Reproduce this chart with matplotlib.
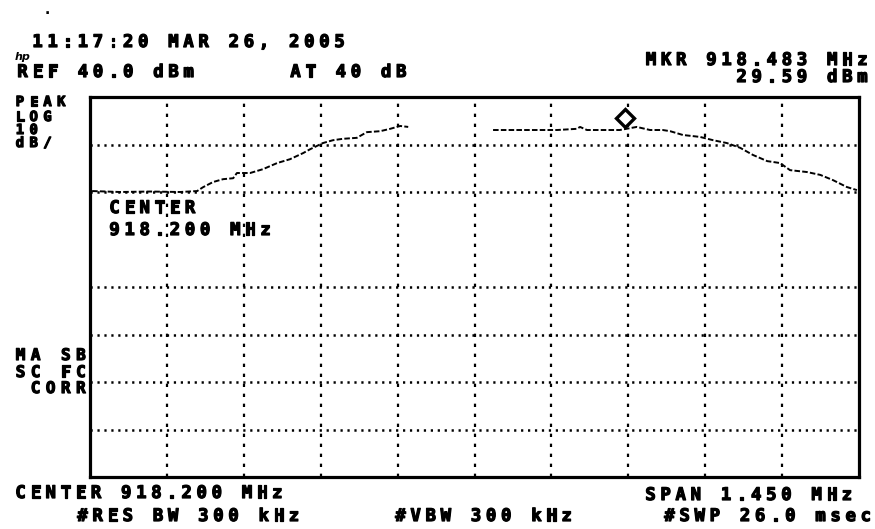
import numpy as np
import matplotlib
matplotlib.use('Agg')
import matplotlib.pyplot as plt
import matplotlib.patheffects as pe

plt.rcParams['lines.scale_dashes'] = False

# ---------------- data ----------------
center_mhz = 918.200
span_mhz = 1.450
ref_level = 40.0
db_per_div = 10.0
n_ydiv = 8
n_xdiv = 10

# horizontal graticule levels visible in the picture (the +10 dBm line is absent)
grid_levels = [30, 20, 0, -10, -20, -30]

trace_freq = [917.479, 917.532, 917.588, 917.645, 917.677, 917.688, 917.707, 917.726,
              917.745, 917.752, 917.777, 917.801, 917.828, 917.852, 917.877, 917.890,
              917.914, 917.933, 917.952, 917.978, 917.997, 918.022, 918.041, 918.060,
              918.075, 918.150, 918.235, 918.263, 918.299, 918.342, 918.356, 918.393,
              918.399, 918.412, 918.474, 918.506, 918.531, 918.555, 918.569, 918.593,
              918.625, 918.650, 918.676, 918.701, 918.725, 918.752, 918.776, 918.795,
              918.827, 918.852, 918.876, 918.902, 918.921]
trace_dbm = [20.2, 20.0, 20.1, 20.0, 20.2, 21.0, 22.1, 22.7,
             22.9, 24.0, 24.0, 24.8, 26.1, 26.9, 28.2, 29.0,
             30.3, 30.9, 31.2, 31.4, 32.6, 32.8, 33.3, 33.9,
             33.7, np.nan, 33.05, 33.05, 33.05, 33.05, 33.05, 33.3,
             33.7, 33.05, 33.05, 33.7, 33.05, 33.05, 32.8, 32.0,
             31.6, 30.9, 30.3, 29.3, 27.8, 26.5, 26.1, 24.6,
             24.2, 23.6, 22.5, 21.05, 20.4]

marker_freq = 918.483
marker_plot_dbm = 35.6

# ---------------- figure ----------------
W, H = 875, 529
fig = plt.figure(figsize=(W / 100, H / 100), dpi=100)
fig.patch.set_facecolor('white')

ax = fig.add_axes([90 / W, (H - 477) / H, 769 / W, 380 / H])
f_start = center_mhz - span_mhz / 2
f_stop = center_mhz + span_mhz / 2
y_bot = ref_level - n_ydiv * db_per_div
ax.set_xlim(f_start, f_stop)
ax.set_ylim(y_bot, ref_level)
ax.set_xticks([])
ax.set_yticks([])
for s in ax.spines.values():
    s.set_linewidth(2.3)
    s.set_color('black')

grid_freqs = [f_start + k * span_mhz / n_xdiv for k in range(1, n_xdiv)]
for f in grid_freqs:
    ax.axvline(f, color='black', lw=1.6, ls=(0, (2.4, 4.8)), zorder=1)
for lv in grid_levels:
    ax.axhline(lv, color='black', lw=1.8, ls=(0, (1.6, 3.4)), zorder=1)

ax.plot(trace_freq, trace_dbm, color='black', lw=1.4, ls=(0, (4, 1.6)), zorder=3)
ax.plot([marker_freq], [marker_plot_dbm], marker='D', ms=9, mfc='white',
        mec='black', mew=2.4, ls='none', zorder=4)

# ---------------- annotation text (fixed-pitch, like the instrument font) ----------------
PITCH = 15.1
BOLD = [pe.withStroke(linewidth=0.9, foreground='black')]


def label(s, x, base, align='left', size=12.5, pitch=PITCH):
    if align == 'right':
        x = x - len(s) * pitch
    for i, ch in enumerate(s):
        if ch == ' ':
            continue
        fig.text((x + (i + 0.5) * pitch) / W, 1 - base / H, ch, ha='center',
                 va='baseline', family='DejaVu Sans Mono', weight='bold',
                 size=size, color='black', path_effects=BOLD)


fig.text(47 / W, 1 - 14 / H, '.', ha='center', va='baseline', size=10, weight='bold')
label('11:17:20 MAR 26, 2005', 30, 47)
fig.text(15 / W, 1 - 60 / H, 'hp', ha='left', va='baseline', size=8,
         style='italic', weight='bold', family='DejaVu Sans')
label('REF 40.0 dBm', 15, 77)
label('AT 40 dB', 288, 77)
label('MKR 918.483 MHz', 870, 65, align='right')
label('29.59 dBm', 870, 82, align='right')

label('PEAK', 13, 106, size=10, pitch=13.8)
label('LOG', 13, 121, size=10, pitch=13.8)
label('10', 13, 134, size=10, pitch=13.8)
label('dB/', 13, 147, size=10, pitch=13.8)

label('CENTER', 107, 213)
label('918.200 MHz', 107, 235)

label('MA SB', 13, 360, size=11.5)
label('SC FC', 13, 377, size=11.5)
label('CORR', 28, 393, size=11.5)

label('CENTER 918.200 MHz', 13, 498)
label('#RES BW 300 kHz', 75, 521)
label('#VBW 300 kHz', 393, 521)
label('SPAN 1.450 MHz', 643, 500)
label('#SWP 26.0 msec', 662, 521)

fig.savefig('out.png', dpi=100, facecolor='white')
